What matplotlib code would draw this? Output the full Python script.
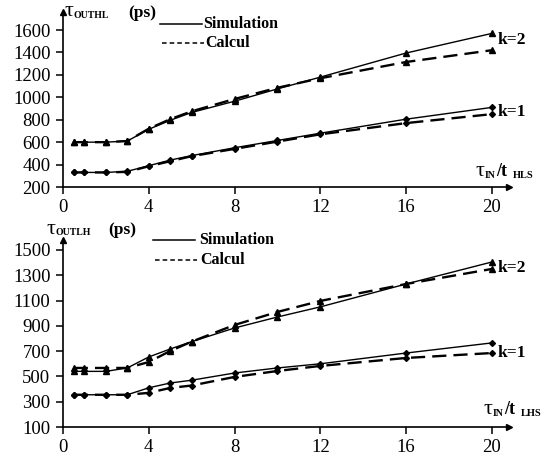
import matplotlib
matplotlib.use("Agg")
import matplotlib.pyplot as plt
from matplotlib.lines import Line2D

plt.rcParams['font.family'] = ['Liberation Serif', 'DejaVu Serif']

x = [0.5, 1, 2, 3, 4, 5, 6, 8, 10, 12, 16, 20]

# tau_OUTHL (ps)
hl_k1_sim = [330, 330, 330, 340, 390, 440, 480, 550, 615, 680, 805, 910]
hl_k1_calc = [330, 330, 330, 335, 385, 430, 475, 540, 605, 670, 770, 850]
hl_k2_sim = [600, 600, 600, 610, 715, 795, 865, 965, 1075, 1180, 1395, 1570]
hl_k2_calc = [600, 600, 600, 610, 720, 805, 875, 985, 1085, 1170, 1315, 1420]

# tau_OUTLH (ps)
lh_k1_sim = [355, 355, 355, 355, 410, 448, 470, 527, 567, 600, 685, 765]
lh_k1_calc = [355, 355, 355, 355, 370, 409, 428, 496, 543, 583, 646, 685]
lh_k2_sim = [540, 540, 540, 567, 654, 717, 775, 883, 970, 1050, 1231, 1405]
lh_k2_calc = [567, 567, 567, 567, 614, 701, 775, 907, 1010, 1097, 1231, 1350]

xticks = [0, 4, 8, 12, 16, 20]
hl_yticks = [200, 400, 600, 800, 1000, 1200, 1400, 1600]
lh_yticks = [100, 300, 500, 700, 900, 1100, 1300, 1500]

W, H = 552, 455
fig = plt.figure(figsize=(W / 100, H / 100), dpi=100)


def px(xp, yp):
    return xp / W, 1 - yp / H


def setup(ax, ylim, yticks):
    ax.set_xlim(0, 20.8)
    ax.set_ylim(*ylim)
    ax.set_xticks(xticks)
    ax.set_yticks(yticks)
    for s in ['top', 'right']:
        ax.spines[s].set_visible(False)
    for s in ['left', 'bottom']:
        ax.spines[s].set_linewidth(1.2)
    ax.tick_params(direction='out', length=5, width=1.1, labelsize=13.5, pad=4)
    ax.plot(1, 0, '>k', ms=5, transform=ax.transAxes, clip_on=False)
    ax.plot(0, 1, '^k', ms=5, transform=ax.transAxes, clip_on=False)


def draw(ax, k1s, k1c, k2s, k2c):
    ax.plot(x, k1s, '-', color='black', lw=1.0, marker='D', ms=3, clip_on=False)
    ax.plot(x, k1c, '--', color='black', lw=1.7, dashes=(6, 3), marker='D', ms=3, clip_on=False)
    ax.plot(x, k2s, '-', color='black', lw=1.0, marker='^', ms=4, clip_on=False)
    ax.plot(x, k2c, '--', color='black', lw=1.7, dashes=(6, 3), marker='^', ms=4, clip_on=False)


ax1 = fig.add_axes([63 / W, 1 - 187 / H, 446 / W, 175 / H])
setup(ax1, (200, 1761), hl_yticks)
draw(ax1, hl_k1_sim, hl_k1_calc, hl_k2_sim, hl_k2_calc)

ax2 = fig.add_axes([63 / W, 1 - 427 / H, 446 / W, 187 / H])
setup(ax2, (100, 1579), lh_yticks)
draw(ax2, lh_k1_sim, lh_k1_calc, lh_k2_sim, lh_k2_calc)

# y labels
for x0, y0, sub, px0 in [(64, 12, 'OUTHL', 128), (46, 229, 'OUTLH', 108)]:
    fig.text(*px(x0, y0), 'τ', fontsize=16, ha='left', va='center')
    fig.text(*px(x0 + 10, y0 + 4), sub, fontsize=7, fontweight='bold', ha='left', va='center')
    fig.text(*px(px0, y0 + 1), '(ps)', fontsize=12.5, fontweight='bold', ha='left', va='center')

# x labels
for x0, y0, sub in [(475, 171, 'HLS'), (483, 409, 'LHS')]:
    fig.text(*px(x0, y0), 'τ', fontsize=16, ha='left', va='center')
    fig.text(*px(x0 + 10, y0 + 4), 'IN', fontsize=7, fontweight='bold', ha='left', va='center')
    fig.text(*px(x0 + 21, y0), '/t', fontsize=13, fontweight='bold', ha='left', va='center')
    fig.text(*px(x0 + 38, y0 + 4), sub, fontsize=7.5, fontweight='bold', ha='left', va='center')

# legends
for (lx, ly, tx), (dx, dy, cx) in [((160, 24, 203), (162, 43, 205)),
                                    ((153, 240, 199), (155, 260, 200))]:
    fig.add_artist(Line2D([lx / W, (lx + 42) / W], [1 - ly / H, 1 - ly / H], color='black', lw=1.1))
    fig.text(*px(tx, ly), 'Simulation', fontsize=11.5, fontweight='bold', ha='left', va='center')
    fig.add_artist(Line2D([dx / W, (dx + 42) / W], [1 - dy / H, 1 - dy / H], color='black', lw=1.1,
                          linestyle=(0, (3, 2))))
    fig.text(*px(cx, dy), 'Calcul', fontsize=11.5, fontweight='bold', ha='left', va='center')

# k labels
for ky, lab in [(40, 'k=2'), (112, 'k=1'), (268, 'k=2'), (353, 'k=1')]:
    fig.text(*px(498, ky), lab, fontsize=12.5, fontweight='bold', ha='left', va='center')

fig.savefig('out.png', dpi=100)
